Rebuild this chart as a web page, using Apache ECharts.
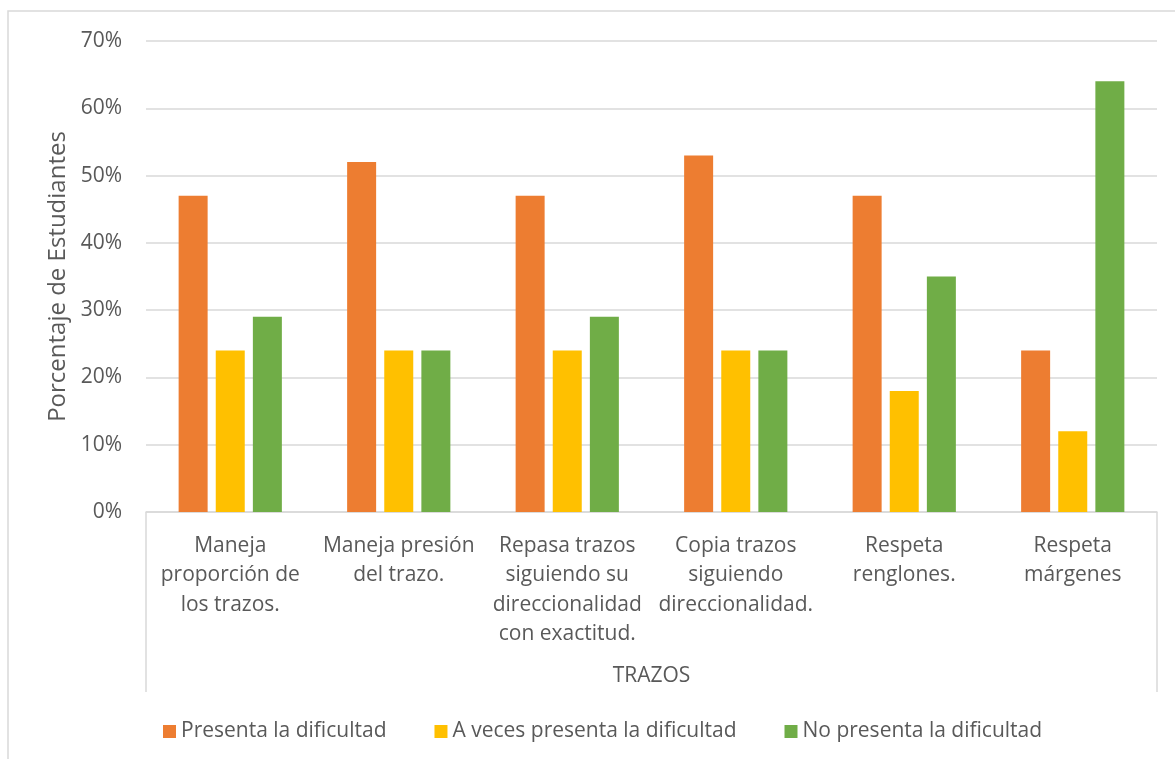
<!DOCTYPE html>
<html>
<head>
<meta charset="utf-8">
<script src="https://cdn.jsdelivr.net/npm/echarts@6/dist/echarts.min.js"></script>
<style>
  html, body { margin: 0; padding: 0; background: #fff; }
  #chart { width: 1175px; height: 759px; }
</style>
</head>
<body>
<div id="chart"></div>
<script>
// Trazos: share of students per handwriting skill
const categories = [
  'Maneja\nproporción de\nlos trazos.',
  'Maneja presión\ndel trazo.',
  'Repasa trazos\nsiguiendo su\ndireccionalidad\ncon exactitud.',
  'Copia trazos\nsiguiendo\ndireccionalidad.',
  'Respeta\nrenglones.',
  'Respeta\nmárgenes'
];
const groupLabel = ['TRAZOS'];
const seriesNames = [
  'Presenta la dificultad',
  'A veces presenta la dificultad',
  'No presenta la dificultad'
];
const presenta = [47, 52, 47, 53, 47, 24];
const aVeces = [24, 24, 24, 24, 18, 12];
const noPresenta = [29, 24, 29, 24, 35, 64];
const yTicks = [0, 10, 20, 30, 40, 50, 60, 70];

const FONT = '"Open Sans", "Noto Sans", sans-serif';
const TEXT = '#595959';
const LINE = '#d9d9d9';
const FS = 21;

const chart = echarts.init(document.getElementById('chart'), null, { renderer: 'canvas' });

const bar = (name, data, color) => ({
  name, type: 'bar', data, barWidth: 29, barGap: '28%',
  itemStyle: { color }, xAxisIndex: 0
});

chart.setOption({
  animation: false,
  backgroundColor: '#fff',
  textStyle: { fontFamily: FONT },
  graphic: [{
    type: 'rect', z: -1,
    shape: { x: 8, y: 11, width: 1300, height: 900 },
    style: { fill: 'none', stroke: LINE, lineWidth: 1.5 }
  }],
  grid: { left: 146, right: 18, top: 41, bottom: 247, containLabel: false },
  legend: {
    data: seriesNames,
    left: 158, top: 716,
    itemWidth: 13, itemHeight: 13, itemGap: 48,
    icon: 'rect',
    textStyle: { color: TEXT, fontSize: FS, fontFamily: FONT }
  },
  xAxis: [{
    type: 'category', data: categories, position: 'bottom',
    axisLine: { lineStyle: { color: LINE, width: 1.5 } },
    axisTick: { show: false },
    axisLabel: {
      color: TEXT, fontSize: FS, fontFamily: FONT, lineHeight: 29.5,
      interval: 0, margin: 19, align: 'center', verticalAlign: 'top'
    }
  }, {
    type: 'category', data: groupLabel, position: 'bottom',
    axisLine: { show: false },
    axisTick: { show: true, length: 180, inside: false, lineStyle: { color: LINE, width: 1.5 } },
    axisLabel: { color: TEXT, fontSize: FS, fontFamily: FONT, margin: 154 }
  }],
  yAxis: {
    type: 'value', min: yTicks[0], max: yTicks[yTicks.length - 1], interval: 10,
    name: 'Porcentaje de Estudiantes',
    nameLocation: 'middle', nameGap: 72,
    nameTextStyle: { color: TEXT, fontSize: 24, fontFamily: FONT },
    axisLine: { show: false }, axisTick: { show: false },
    axisLabel: { color: TEXT, fontSize: FS, fontFamily: FONT, margin: 24, formatter: '{value}%' },
    splitLine: { lineStyle: { color: LINE, width: 1.5 } }
  },
  series: [
    bar(seriesNames[0], presenta, '#ED7D31'),
    bar(seriesNames[1], aVeces, '#FFC000'),
    bar(seriesNames[2], noPresenta, '#70AD47'),
    { type: 'bar', data: [null], xAxisIndex: 1, silent: true }
  ]
});
</script>
</body>
</html>
